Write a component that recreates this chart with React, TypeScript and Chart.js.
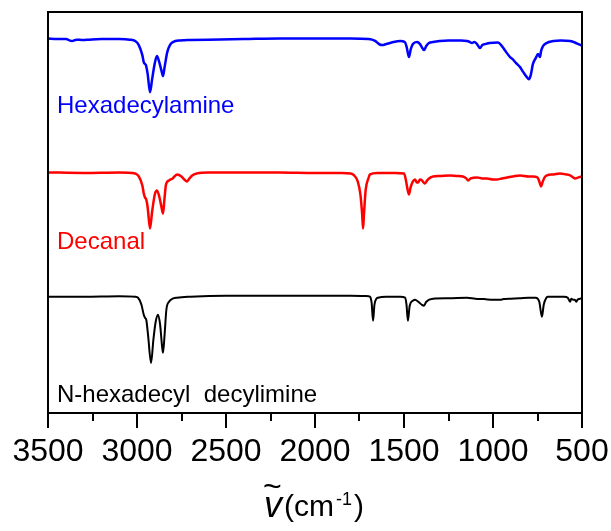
import React, { useEffect, useRef } from "react";
import { Chart, registerables } from "chart.js";

Chart.register(...registerables);

// Wavenumbers (cm^-1) and offset intensities (a.u.) of each FTIR spectrum
const AMINE_WN = [3500, 3450, 3400, 3365, 3340, 3303, 3270, 3200, 3100, 3040, 3010, 2990, 2970, 2962, 2955, 2950, 2940, 2927, 2915, 2900, 2888, 2875, 2862, 2854, 2845, 2830, 2815, 2798, 2760, 2700, 2600, 2400, 2200, 2000, 1800, 1700, 1680, 1660, 1640, 1624, 1600, 1560, 1522, 1495, 1485, 1472, 1462, 1450, 1427, 1410, 1400, 1388, 1375, 1360, 1337, 1300, 1250, 1180, 1146, 1130, 1118, 1105, 1090, 1073, 1060, 1045, 1020, 972, 950, 930, 904, 890, 870, 848, 830, 810, 798, 788, 776, 760, 747, 740, 736, 730, 719, 700, 660, 620, 567, 540, 520, 500];
const AMINE_I = [93.4, 93.25, 93.25, 92.75, 93.1, 93.0, 93.1, 93.25, 93.25, 93.1, 92.75, 91.75, 89.25, 87.5, 87.0, 86.75, 84.5, 80.0, 83.25, 87.25, 89.0, 87.5, 85.25, 84.0, 86.25, 90.0, 91.75, 92.5, 92.9, 93.0, 93.1, 93.25, 93.4, 93.4, 93.4, 93.25, 93.1, 92.75, 92.0, 91.75, 92.0, 92.5, 92.75, 92.5, 91.25, 88.75, 90.75, 92.0, 92.5, 92.0, 91.25, 90.5, 91.5, 92.25, 92.5, 92.75, 92.9, 92.9, 92.75, 92.5, 92.25, 92.5, 92.0, 91.0, 91.75, 92.0, 92.25, 92.4, 91.5, 90.25, 88.75, 88.25, 87.25, 86.25, 85.0, 83.75, 83.25, 84.25, 87.0, 88.5, 89.5, 89.0, 88.75, 90.25, 91.5, 92.25, 92.75, 92.9, 92.75, 92.4, 92.0, 91.6];

const DECANAL_WN = [3500, 3300, 3100, 3010, 2990, 2970, 2962, 2955, 2948, 2940, 2927, 2915, 2900, 2888, 2875, 2862, 2854, 2846, 2837, 2820, 2800, 2775, 2750, 2735, 2719, 2705, 2690, 2663, 2600, 2400, 2200, 2000, 1850, 1800, 1780, 1760, 1745, 1735, 1730, 1725, 1715, 1700, 1691, 1650, 1550, 1500, 1490, 1480, 1472, 1463, 1450, 1438, 1428, 1421, 1410, 1399, 1390, 1382, 1370, 1350, 1337, 1300, 1242, 1200, 1169, 1150, 1140, 1125, 1090, 1060, 1034, 1000, 978, 950, 920, 888, 848, 800, 775, 750, 738, 730, 722, 710, 697, 660, 624, 590, 567, 550, 539, 520, 500];
const DECANAL_I = [60.0, 59.875, 60.0, 59.75, 59.0, 56.75, 54.75, 53.75, 53.25, 51.25, 46.0, 50.25, 54.5, 55.5, 54.0, 51.25, 49.75, 53.25, 57.0, 58.0, 58.5, 59.5, 59.0, 58.25, 57.75, 58.5, 59.25, 59.75, 60.0, 60.0, 60.0, 59.875, 59.875, 59.75, 59.25, 57.75, 54.5, 49.5, 46.0, 49.5, 55.75, 58.5, 59.5, 59.875, 59.875, 59.75, 58.25, 55.75, 54.5, 56.25, 57.75, 58.25, 57.5, 57.5, 58.25, 58.0, 57.5, 57.25, 58.0, 58.75, 59.0, 59.1, 59.25, 59.1, 59.0, 58.5, 58.0, 58.5, 58.75, 58.5, 58.5, 58.25, 58.25, 58.5, 58.75, 59.0, 59.25, 59.0, 59.0, 58.75, 57.5, 56.5, 57.5, 58.75, 59.25, 59.5, 59.75, 59.5, 59.25, 58.75, 58.5, 58.75, 59.0];

const IMINE_WN = [3500, 3300, 3100, 3010, 2994, 2975, 2962, 2955, 2948, 2938, 2921, 2908, 2895, 2882, 2870, 2860, 2854, 2845, 2835, 2820, 2800, 2775, 2700, 2500, 2300, 2000, 1800, 1700, 1691, 1682, 1674, 1666, 1655, 1646, 1600, 1520, 1494, 1486, 1478, 1468, 1450, 1438, 1420, 1400, 1388, 1375, 1337, 1250, 1146, 1100, 1050, 1000, 961, 940, 900, 850, 800, 760, 740, 725, 715, 700, 691, 640, 600, 580, 567, 560, 550, 540, 533, 525, 510, 500];
const IMINE_I = [29.0, 29.0, 29.125, 29.0, 28.75, 27.0, 24.5, 23.75, 23.25, 19.5, 12.5, 18.25, 22.75, 24.5, 22.0, 17.0, 15.0, 19.5, 25.75, 27.75, 28.5, 28.75, 29.0, 29.25, 29.25, 29.25, 29.25, 29.125, 29.0, 27.5, 23.0, 27.0, 28.5, 28.75, 29.0, 29.0, 28.75, 27.0, 23.0, 26.75, 28.0, 28.25, 27.75, 27.0, 26.75, 27.75, 28.5, 28.6, 28.75, 28.5, 28.4, 28.25, 28.25, 28.4, 28.5, 28.6, 28.75, 28.75, 27.75, 24.0, 27.0, 28.75, 29.0, 29.0, 29.0, 28.75, 27.75, 28.5, 28.25, 28.25, 27.75, 28.25, 28.5, 28.75];

const SERIES_NAMES = ["Hexadecylamine", "Decanal", "N-hexadecyl  decylimine"];
const SERIES_COLORS = ["#0000FF", "#FF0000", "#000000"];
const SERIES_WIDTHS = [2.5, 2.5, 2];

const X_MIN = 500;
const X_MAX = 3500;
const X_MAJOR_STEP = 500;
const X_MINOR_STEP = 250;

const FONT = "'Liberation Sans', Arial, sans-serif";

const toPoints = (xs: number[], ys: number[]) => xs.map((x, i) => ({ x, y: ys[i] }));

// Frame, tick marks, trace names and the wavenumber axis title
const decorations = {
  id: "decorations",
  afterDraw(chart: any) {
    const { ctx, chartArea } = chart;
    const { left, right, top, bottom } = chartArea;
    const xs = chart.scales.x;
    ctx.save();

    ctx.strokeStyle = "#000";
    ctx.lineWidth = 2;
    ctx.strokeRect(left, top, right - left, bottom - top);

    ctx.lineWidth = 2;
    for (let v = X_MIN; v <= X_MAX; v += X_MINOR_STEP) {
      const px = Math.round(xs.getPixelForValue(v));
      const len = v % X_MAJOR_STEP === 0 ? 15 : 8;
      ctx.beginPath();
      ctx.moveTo(px, bottom);
      ctx.lineTo(px, bottom + len);
      ctx.stroke();
    }

    // trace names
    ctx.textAlign = "left";
    ctx.textBaseline = "alphabetic";
    ctx.font = `24px ${FONT}`;
    const nameBaselines = [101, 237, 390];
    SERIES_NAMES.forEach((name, i) => {
      ctx.fillStyle = SERIES_COLORS[i];
      ctx.fillText(name, left + 9, top + nameBaselines[i]);
    });

    // axis title: wavenumber symbol with unit
    ctx.fillStyle = "#000";
    const base = bottom + 103;
    let x = 264;
    ctx.font = `italic 36px ${FONT}`;
    ctx.fillText("v", x, base + 1);
    ctx.font = `32px ${FONT}`;
    ctx.fillText("~", x - 1, base - 19);
    x += 20;
    ctx.font = `30px ${FONT}`;
    ctx.fillText("(cm", x, base);
    x += ctx.measureText("(cm").width + 2;
    ctx.font = `18px ${FONT}`;
    ctx.fillText("-1", x, base - 11);
    x += ctx.measureText("-1").width + 2;
    ctx.font = `30px ${FONT}`;
    ctx.fillText(")", x, base);

    ctx.restore();
  },
};

export default function App() {
  const canvasRef = useRef<HTMLCanvasElement | null>(null);

  useEffect(() => {
    if (!canvasRef.current) return;
    const series = [
      toPoints(AMINE_WN, AMINE_I),
      toPoints(DECANAL_WN, DECANAL_I),
      toPoints(IMINE_WN, IMINE_I),
    ];
    const chart = new Chart(canvasRef.current, {
      type: "line",
      data: {
        datasets: series.map((data, i) => ({
          label: SERIES_NAMES[i],
          data,
          borderColor: SERIES_COLORS[i],
          borderWidth: SERIES_WIDTHS[i],
          pointRadius: 0,
          fill: false,
          cubicInterpolationMode: "monotone" as const,
        })),
      },
      options: {
        animation: false,
        responsive: false,
        maintainAspectRatio: false,
        layout: { padding: { left: 48, right: 29, top: 12, bottom: 0 } },
        plugins: {
          legend: { display: false },
          tooltip: { enabled: false },
        },
        scales: {
          x: {
            type: "linear",
            min: X_MIN,
            max: X_MAX,
            reverse: true,
            afterFit: (scale: any) => {
              scale.height = 118;
              scale.paddingLeft = 0;
              scale.paddingRight = 0;
            },
            grid: { display: false, drawTicks: false, tickLength: 0 },
            border: { display: false },
            ticks: {
              stepSize: X_MAJOR_STEP,
              autoSkip: false,
              maxRotation: 0,
              padding: 20,
              color: "#000",
              font: { family: FONT, size: 32 },
              callback: (value: any) => String(value),
            },
          },
          y: {
            display: false,
            min: 0,
            max: 100,
          },
        },
      },
      plugins: [decorations],
    });
    return () => chart.destroy();
  }, []);

  return (
    <div style={{ position: "absolute", left: 0, top: 0, width: 611, height: 531, background: "#fff" }}>
      <canvas ref={canvasRef} width={611} height={531} style={{ display: "block" }} />
    </div>
  );
}
